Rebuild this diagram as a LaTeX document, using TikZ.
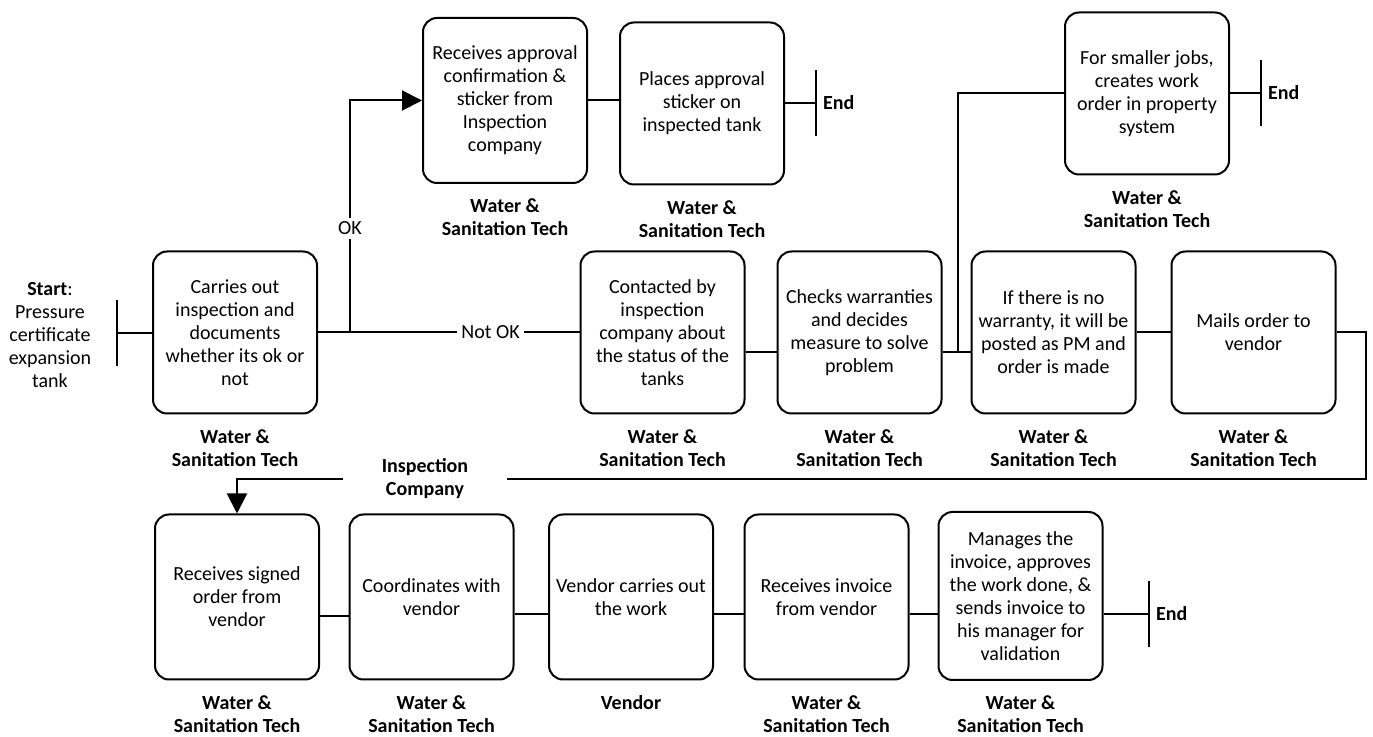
\documentclass[tikz,border=0pt]{standalone}
\usepackage{fontspec}
\setmainfont{Carlito}
\usetikzlibrary{arrows.meta}
\begin{document}
\begin{tikzpicture}[x=0.5pt,y=-0.5pt,line width=1pt,
  font=\fontsize{10}{11.5}\selectfont,
  task/.style={draw,rounded corners=7pt,align=center,minimum width=82pt,minimum height=81pt,inner sep=1pt},
  lane/.style={font=\fontsize{10}{11.5}\selectfont\bfseries,align=center,inner sep=0pt},
  who/.style={label={[lane,label distance=7pt]below:#1}},
  lbl/.style={fill=white,inner sep=2pt},
  arr/.style={-{Triangle[length=10pt,width=10pt]}}]
  \useasboundingbox (0,0) rectangle (1373,737);
  % start
  \node[align=center] (start) at (50,335) {\textbf{Start}:\\Pressure\\certificate\\expansion\\tank};
  \coordinate (sbar) at (117,333);
  \draw ([yshift=16.5pt]sbar) -- ([yshift=-16.5pt]sbar);
  % middle row
  \node[task,who={Water \&\\Sanitation Tech}] (a) at (235,332.5) {Carries out\\inspection and\\documents\\whether its ok or\\not};
  \node[task,who={Water \&\\Sanitation Tech}] (d) at (662.5,332.5) {Contacted by\\inspection\\company about\\the status of the\\tanks};
  \node[task,who={Water \&\\Sanitation Tech}] (e) at (859.5,332.5) {Checks warranties\\and decides\\measure to solve\\problem};
  \node[task,who={Water \&\\Sanitation Tech}] (f) at (1053.5,332.5) {If there is no\\warranty, it will be\\posted as PM and\\order is made};
  \node[task,who={Water \&\\Sanitation Tech}] (g) at (1253.5,332.5) {Mails order to\\vendor};
  % top row
  \node[task,minimum height=82.5pt,who={Water \&\\Sanitation Tech}] (b) at (505,100.5) {Receives approval\\confirmation \&\\sticker from\\Inspection\\company};
  \node[task,who={Water \&\\Sanitation Tech}] (c) at (702,103.5) {Places approval\\sticker on\\inspected tank};
  \node[task,who={Water \&\\Sanitation Tech}] (h) at (1147,93.5) {For smaller jobs,\\creates work\\order in property\\system};
  % bottom row
  \node[task,minimum height=82.5pt,who={Water \&\\Sanitation Tech}] (i) at (237,597) {Receives signed\\order from\\vendor};
  \node[task,minimum height=82.5pt,who={Water \&\\Sanitation Tech}] (j) at (431.5,597) {Coordinates with\\vendor};
  \node[task,minimum height=82.5pt,who={Vendor}] (k) at (631,597) {Vendor carries out\\the work};
  \node[task,minimum height=82.5pt,who={Water \&\\Sanitation Tech}] (l) at (826.5,597) {Receives invoice\\from vendor};
  \node[task,minimum height=84pt,who={Water \&\\Sanitation Tech}] (m) at (1020.5,596) {Manages the\\invoice, approves\\the work done, \&\\sends invoice to\\his manager for\\validation};
  % ends
  \coordinate (cend) at (816,103);
  \coordinate (hend) at (1261,93);
  \coordinate (mend) at (1149,614);
  \foreach \e in {cend,hend,mend}
    \draw ([yshift=16.5pt]\e) -- ([yshift=-16.5pt]\e) node[lane,anchor=west,xshift=3pt,yshift=16.5pt] {End};
  % connectors
  \coordinate (okfork) at (350,333);
  \coordinate (hfork) at (958,352);
  \coordinate (ret) at (1366,479);
  \draw (sbar) -- (sbar -| a.west);
  \draw (a.east) -- node[lbl,pos=0.66] {Not OK} (d.west);
  \draw[arr] (okfork) -- node[lbl,pos=0.45] {OK} (okfork |- b.west) -- (b.west);
  \draw (b.east) -- (b.east -| c.west);
  \draw (c.east) -- (c.east -| cend);
  \draw ([yshift=-10pt]d.east) -- ([yshift=-10pt]e.west);
  \draw ([yshift=-10pt]e.east) -- ([yshift=-10pt]f.west);
  \draw (hfork) |- (h.west);
  \draw (h.east) -- (h.east -| hend);
  \draw (f) -- (g);
  \draw[arr] (g.east) -| (ret) -| (i.north);
  \node[lane,fill=white,minimum width=82pt,minimum height=20pt] (insp) at (425,479) {Inspection\\Company};
  \draw ([yshift=-9.5pt]i.east) -- ([yshift=-9.5pt]j.west);
  \draw (j.east |- mend) -- (k.west |- mend);
  \draw (k.east |- mend) -- (l.west |- mend);
  \draw (l.east |- mend) -- (m.west |- mend);
  \draw (m.east |- mend) -- (mend);
\end{tikzpicture}
\end{document}
